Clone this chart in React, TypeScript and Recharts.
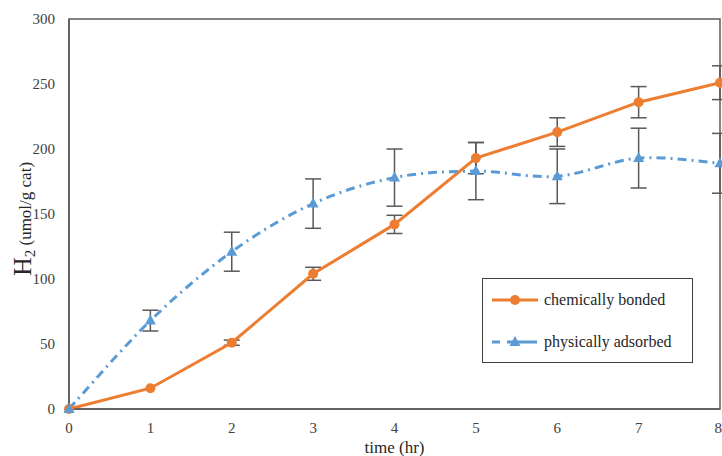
import { CartesianGrid, ErrorBar, Label, Legend, Line, LineChart, ReferenceArea, XAxis, YAxis } from 'recharts';

const horas = [0, 1, 2, 3, 4, 5, 6, 7, 8];
const quimicamente = [0, 16, 51, 104, 142, 193, 213, 236, 251];
const quimicamenteErro = [0, 0, 2, 5, 7, 12, 11, 12, 13];
const fisicamente = [0, 68, 121, 158, 178, 183, 179, 193, 189];
const fisicamenteErro = [0, 8, 15, 19, 22, 22, 21, 23, 23];
const ticksY = [0, 50, 100, 150, 200, 250, 300];

const LARANJA = '#ED7D31';
const AZUL = '#5B9BD5';
const CINZA = '#595959';
const FONTE = '"Liberation Serif", "Times New Roman", serif';
const TRACO = '9 5 2 5';

const dados = horas.map((t, i) => ({
  t,
  bonded: quimicamente[i],
  bondedErr: quimicamenteErro[i],
  adsorbed: fisicamente[i],
  adsorbedErr: fisicamenteErro[i],
}));

// suavização parecida com a do Excel (Catmull-Rom)
const curvaSuave = (ctx: any) => {
  let pts: number[][] = [];
  return {
    areaStart() {},
    areaEnd() {},
    lineStart() {
      pts = [];
    },
    point(x: number, y: number) {
      pts.push([+x, +y]);
    },
    lineEnd() {
      const n = pts.length;
      if (!n) return;
      ctx.moveTo(pts[0][0], pts[0][1]);
      for (let i = 0; i < n - 1; i++) {
        const p0 = pts[Math.max(i - 1, 0)];
        const p1 = pts[i];
        const p2 = pts[i + 1];
        const p3 = pts[Math.min(i + 2, n - 1)];
        ctx.bezierCurveTo(
          p1[0] + (p2[0] - p0[0]) / 6,
          p1[1] + (p2[1] - p0[1]) / 6,
          p2[0] - (p3[0] - p1[0]) / 6,
          p2[1] - (p3[1] - p1[1]) / 6,
          p2[0],
          p2[1],
        );
      }
    },
  };
};

function Triangulo(props: any) {
  const { cx, cy } = props;
  if (cx == null || cy == null) return null;
  return <polygon points={`${cx},${cy - 6} ${cx - 5.5},${cy + 4} ${cx + 5.5},${cy + 4}`} fill={AZUL} />;
}

function TituloY() {
  return (
    <text
      x={219}
      y={31}
      transform="rotate(-90, 219, 31) translate(-188, -188)"
      textAnchor="middle"
      fontFamily={FONTE}
      fill="#262626"
    >
      <tspan fontSize={26}>H</tspan>
      <tspan fontSize={15} dy={4}>2</tspan>
      <tspan fontSize={17} dy={-4}> (umol/g cat)</tspan>
    </text>
  );
}

function Legenda() {
  return (
    <div
      style={{
        width: 211,
        height: 85,
        border: '1.5px solid #404040',
        background: '#fff',
        boxSizing: 'border-box',
        fontFamily: FONTE,
        fontSize: 16,
        color: '#262626',
        position: 'relative',
      }}
    >
      <div style={{ position: 'absolute', left: 9, top: 12, display: 'flex', alignItems: 'center', gap: 6 }}>
        <svg width={46} height={12}>
          <line x1={0} y1={6} x2={46} y2={6} stroke={LARANJA} strokeWidth={3} />
          <circle cx={23} cy={6} r={5} fill={LARANJA} />
        </svg>
        <span>chemically bonded</span>
      </div>
      <div style={{ position: 'absolute', left: 9, top: 54, display: 'flex', alignItems: 'center', gap: 6 }}>
        <svg width={46} height={12}>
          <line x1={0} y1={6} x2={46} y2={6} stroke={AZUL} strokeWidth={3} strokeDasharray="8 7 30 7" />
          <polygon points="23,0 17.5,10 28.5,10" fill={AZUL} />
        </svg>
        <span>physically adsorbed</span>
      </div>
    </div>
  );
}

export default function App() {
  return (
    <div style={{ position: 'absolute', left: 0, top: 0, width: 722, height: 456, background: '#fff' }}>
      <LineChart width={722} height={456} data={dados} margin={{ top: 19, right: 2, left: 0, bottom: 0 }}>
        <CartesianGrid stroke="none" />
        <XAxis
          dataKey="t"
          type="number"
          domain={[0, 8]}
          ticks={horas}
          tickLine={false}
          tickMargin={7}
          height={47}
          axisLine={{ stroke: CINZA, strokeWidth: 1.5 }}
          tick={{ fontSize: 15, fill: '#404040', fontFamily: FONTE }}
        >
          <Label value="time (hr)" position="insideBottom" offset={3} style={{ fontSize: 17, fill: '#262626', fontFamily: FONTE }} />
        </XAxis>
        <YAxis
          type="number"
          domain={[0, 300]}
          ticks={ticksY}
          width={69}
          tickLine={false}
          tickMargin={8}
          axisLine={{ stroke: CINZA, strokeWidth: 1.5 }}
          tick={{ fontSize: 15, fill: '#404040', fontFamily: FONTE }}
          label={<TituloY />}
        />
        <ReferenceArea x1={0} x2={8} y1={0} y2={300} fill="none" stroke={CINZA} strokeWidth={1.5} ifOverflow="visible" />
        <Line
          type="linear"
          dataKey="bonded"
          name="chemically bonded"
          stroke={LARANJA}
          strokeWidth={3}
          dot={{ r: 5, fill: LARANJA, stroke: 'none' }}
          isAnimationActive={false}
        >
          <ErrorBar dataKey="bondedErr" direction="y" width={8} stroke={CINZA} strokeWidth={1.5} />
        </Line>
        <Line
          type={curvaSuave as any}
          dataKey="adsorbed"
          name="physically adsorbed"
          stroke={AZUL}
          strokeWidth={3}
          strokeDasharray={TRACO}
          dot={<Triangulo />}
          isAnimationActive={false}
        >
          <ErrorBar dataKey="adsorbedErr" direction="y" width={8} stroke={CINZA} strokeWidth={1.5} />
        </Line>
        <Legend
          layout="vertical"
          align="center"
          verticalAlign="middle"
          content={() => <Legenda />}
          wrapperStyle={{ left: 482, top: 278, width: 211, height: 85 }}
        />
      </LineChart>
    </div>
  );
}
